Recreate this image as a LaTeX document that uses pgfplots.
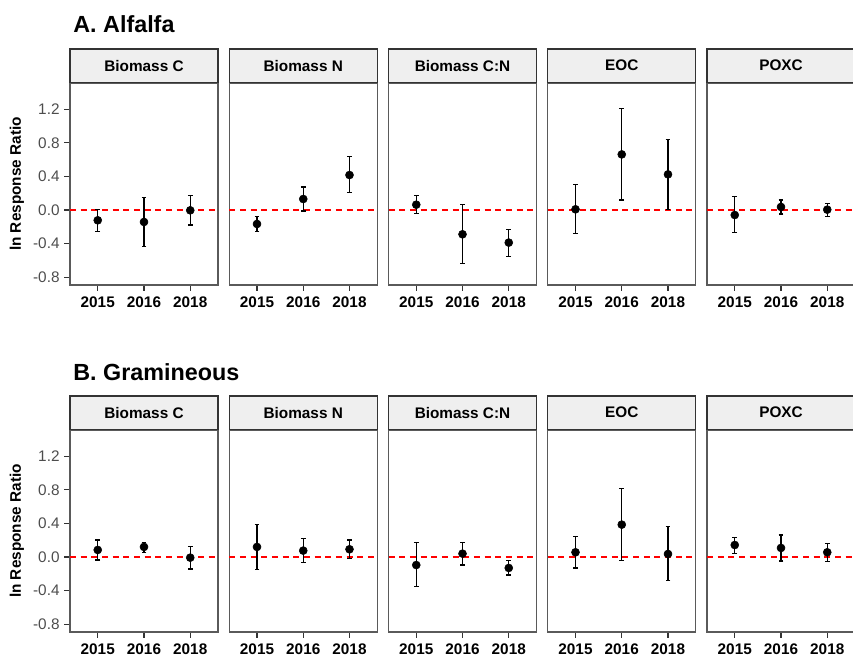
\documentclass[border=0pt]{standalone}
\usepackage{fontspec}
\setmainfont{Liberation Sans}
\usepackage{pgfplots}
\pgfplotsset{compat=1.18}
\definecolor{frame}{HTML}{333333}
\definecolor{panelframe}{HTML}{5A5A5A}
\definecolor{stripfill}{HTML}{EFEFEF}
\definecolor{ticktext}{HTML}{4D4D4D}
\newcommand{\lab}{\fontsize{11.5}{13}\selectfont}
\pgfplotsset{
  panel/.style={scale only axis, width=111pt, height=151.5pt, anchor=south west,
    xmin=0.4, xmax=3.6, ymin=-0.895, ymax=1.515,
    xtick={1,2,3}, xticklabels={2015,2016,2018},
    xtick pos=left, ytick pos=left, tick align=outside, major tick length=4.3pt,
    axis line style={draw=panelframe, line width=0.9pt},
    tick style={draw=frame, line width=0.8pt},
    xticklabel style={font=\lab\bfseries, text=black, yshift=-1pt},
    ytick=\empty, clip=false,
    /pgf/number format/assume math mode=true},
  firstpanel/.style={ytick={-0.8,-0.4,0,0.4,0.8,1.2},
    yticklabels={-0.8,-0.4,0.0,0.4,0.8,1.2},
    yticklabel style={font=\lab, text=ticktext}},
  zero/.style={draw=red, color=red, line width=0.8pt, dash pattern=on 4.5pt off 3.5pt},
  pts/.style={only marks, mark=*, mark size=3pt, black,
    error bars/.cd, y dir=both, y explicit,
    error bar style={line width=0.9pt, black},
    error mark options={rotate=90, mark size=1.8pt, line width=0.9pt, black}},
}
\tikzset{strip/.style={anchor=south, draw=frame, fill=stripfill, line width=0.9pt,
  minimum width=111pt, minimum height=25.1pt, inner sep=0pt, font=\lab\bfseries, text=black}}
\begin{document}
\begin{tikzpicture}
\useasboundingbox (0,0) rectangle (639.75pt,493.5pt);
% ---------- Row A: Alfalfa ----------
\node[anchor=base west, font=\fontsize{17.5}{20}\selectfont\bfseries] at (51.5pt,468.75pt) {A. Alfalfa};
\node[rotate=90, font=\lab\bfseries] at (12.75pt,355.5pt) {ln Response Ratio};
\begin{axis}[panel, firstpanel, at={(52.5pt,279.75pt)}]
\addplot[zero] coordinates {(0.4,0) (3.6,0)};
\addplot[pts] coordinates {(1,-0.123) += (0,0.131) -= (0,0.135)
 (2,-0.143) += (0,0.290) -= (0,0.294)
 (3,-0.004) += (0,0.175) -= (0,0.175)};
\node[strip] at (rel axis cs:0.5,1) {Biomass C};
\end{axis}
\begin{axis}[panel, at={(171.94pt,279.75pt)}]
\addplot[zero] coordinates {(0.4,0) (3.6,0)};
\addplot[pts] coordinates {(1,-0.167) += (0,0.088) -= (0,0.091)
 (2,0.131) += (0,0.143) -= (0,0.143)
 (3,0.417) += (0,0.218) -= (0,0.211)};
\node[strip] at (rel axis cs:0.5,1) {Biomass N};
\end{axis}
\begin{axis}[panel, at={(291.38pt,279.75pt)}]
\addplot[zero] coordinates {(0.4,0) (3.6,0)};
\addplot[pts] coordinates {(1,0.063) += (0,0.108) -= (0,0.103)
 (2,-0.290) += (0,0.353) -= (0,0.345)
 (3,-0.389) += (0,0.159) -= (0,0.163)};
\node[strip] at (rel axis cs:0.5,1) {Biomass C:N};
\end{axis}
\begin{axis}[panel, at={(410.81pt,279.75pt)}]
\addplot[zero] coordinates {(0.4,0) (3.6,0)};
\addplot[pts] coordinates {(1,0.008) += (0,0.298) -= (0,0.290)
 (2,0.663) += (0,0.543) -= (0,0.544)
 (3,0.425) += (0,0.416) -= (0,0.417)};
\node[strip] at (rel axis cs:0.5,1) {EOC};
\end{axis}
\begin{axis}[panel, at={(530.25pt,279.75pt)}]
\addplot[zero] coordinates {(0.4,0) (3.6,0)};
\addplot[pts] coordinates {(1,-0.060) += (0,0.219) -= (0,0.206)
 (2,0.036) += (0,0.083) -= (0,0.084)
 (3,0.004) += (0,0.075) -= (0,0.079)};
\node[strip] at (rel axis cs:0.5,1) {POXC};
\end{axis}
% ---------- Row B: Gramineous ----------
\node[anchor=base west, font=\fontsize{17.5}{20}\selectfont\bfseries] at (51.5pt,208.5pt) {B. Gramineous};
\node[rotate=90, font=\lab\bfseries] at (12.75pt,95.25pt) {ln Response Ratio};
\begin{axis}[panel, firstpanel, at={(52.5pt,19.5pt)}]
\addplot[zero] coordinates {(0.4,0) (3.6,0)};
\addplot[pts] coordinates {(1,0.084) += (0,0.119) -= (0,0.120)
 (2,0.120) += (0,0.055) -= (0,0.064)
 (3,-0.008) += (0,0.135) -= (0,0.135)};
\node[strip] at (rel axis cs:0.5,1) {Biomass C};
\end{axis}
\begin{axis}[panel, at={(171.94pt,19.5pt)}]
\addplot[zero] coordinates {(0.4,0) (3.6,0)};
\addplot[pts] coordinates {(1,0.120) += (0,0.270) -= (0,0.267)
 (2,0.076) += (0,0.143) -= (0,0.140)
 (3,0.092) += (0,0.111) -= (0,0.108)};
\node[strip] at (rel axis cs:0.5,1) {Biomass N};
\end{axis}
\begin{axis}[panel, at={(291.38pt,19.5pt)}]
\addplot[zero] coordinates {(0.4,0) (3.6,0)};
\addplot[pts] coordinates {(1,-0.096) += (0,0.271) -= (0,0.259)
 (2,0.040) += (0,0.135) -= (0,0.136)
 (3,-0.131) += (0,0.091) -= (0,0.084)};
\node[strip] at (rel axis cs:0.5,1) {Biomass C:N};
\end{axis}
\begin{axis}[panel, at={(410.81pt,19.5pt)}]
\addplot[zero] coordinates {(0.4,0) (3.6,0)};
\addplot[pts] coordinates {(1,0.056) += (0,0.187) -= (0,0.187)
 (2,0.386) += (0,0.431) -= (0,0.426)
 (3,0.036) += (0,0.323) -= (0,0.319)};
\node[strip] at (rel axis cs:0.5,1) {EOC};
\end{axis}
\begin{axis}[panel, at={(530.25pt,19.5pt)}]
\addplot[zero] coordinates {(0.4,0) (3.6,0)};
\addplot[pts] coordinates {(1,0.143) += (0,0.092) -= (0,0.099)
 (2,0.108) += (0,0.155) -= (0,0.156)
 (3,0.056) += (0,0.107) -= (0,0.112)};
\node[strip] at (rel axis cs:0.5,1) {POXC};
\end{axis}
\end{tikzpicture}
\end{document}
